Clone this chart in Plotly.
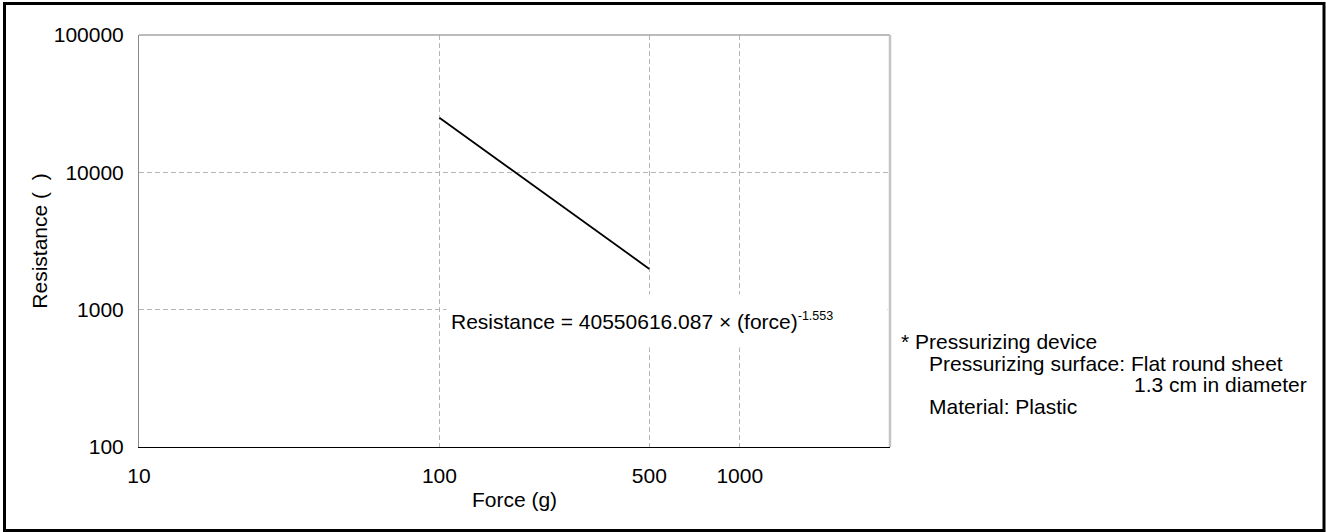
import plotly.graph_objects as go

# ---- data ----
force_g = [100, 500]
resistance = [25000, 1980]
x_ticks = [10, 100, 500, 1000]
x_tick_labels = ["10", "100", "500", "1000"]
y_ticks = [100, 1000, 10000, 100000]
y_tick_labels = ["100", "1000", "10000", "100000"]
equation = "Resistance = 40550616.087 × (force)<sup><span style='font-size:12.5px'>-1.553</span></sup>"
notes = [
    "* Pressurizing device",
    "Pressurizing surface: Flat round sheet",
    "1.3 cm in diameter",
    "Material: Plastic",
]

W, H = 1326, 532
L, R, T, B = 139, 890, 35, 447   # plot area in pixels
FONT = "Liberation Sans, Arial, sans-serif"
FS = 21


def px(xp):
    return (xp - L) / (R - L)


def py(yp):
    return (B - yp) / (B - T)


fig = go.Figure()
fig.add_trace(go.Scatter(
    x=force_g, y=resistance, mode="lines",
    line=dict(color="black", width=1.8),
    hoverinfo="skip", showlegend=False,
))

grid = dict(showgrid=True, gridcolor="#b5b5b5", gridwidth=1, griddash="5px,3px")

fig.update_layout(
    width=W, height=H,
    margin=dict(l=L, r=W - R, t=T, b=H - B, autoexpand=False),
    paper_bgcolor="white", plot_bgcolor="white",
    font=dict(family=FONT, size=FS, color="black"),
    showlegend=False,
    xaxis=dict(
        type="log", range=[1, 3.5],
        tickvals=x_ticks, ticktext=x_tick_labels,
        showline=True, linecolor="black", linewidth=1,
        ticks="", zeroline=False, ticklabelstandoff=10,
        title=dict(text="Force (g)", standoff=6, font=dict(size=FS)),
        **grid,
    ),
    yaxis=dict(
        type="log", range=[2, 5],
        tickvals=y_ticks, ticktext=y_tick_labels,
        showline=True, linecolor="#8a8a8a", linewidth=1,
        ticks="", zeroline=False, ticklabelstandoff=10,
        title=dict(text="Resistance (  )", standoff=0, font=dict(size=FS)),
        **grid,
    ),
)

# plot frame (top and right)
fig.add_shape(type="line", xref="paper", yref="paper", x0=0, x1=1, y0=1, y1=1,
              line=dict(color="#a6a6a6", width=1.5), layer="above")
fig.add_shape(type="line", xref="paper", yref="paper", x0=1, x1=1, y0=0, y1=1,
              line=dict(color="#c4c4c4", width=2.5), layer="above")

# outer black border
fig.add_shape(type="rect", xref="paper", yref="paper",
              x0=px(4.5), x1=px(1324), y0=py(530.5), y1=py(3.5),
              line=dict(color="black", width=3), fillcolor="rgba(0,0,0,0)", layer="above")

# equation annotation with white box
fig.add_annotation(
    xref="paper", yref="paper", x=px(446), y=py(294),
    xanchor="left", yanchor="top", text=equation, showarrow=False,
    width=432, height=44, align="left", valign="middle",
    bgcolor="white", borderpad=4, font=dict(size=FS),
)

# notes on the right
note_pos = [(899, 341, "left"), (927, 363, "left"), (1309, 384, "right"), (927, 406, "left")]
for txt, (nx, ny, anc) in zip(notes, note_pos):
    fig.add_annotation(xref="paper", yref="paper", x=px(nx), y=py(ny),
                       xanchor=anc, yanchor="middle", text=txt, showarrow=False,
                       font=dict(size=FS))

fig.write_html("out.html", config={"displayModeBar": False},
               post_script="document.body.style.margin='0';")
